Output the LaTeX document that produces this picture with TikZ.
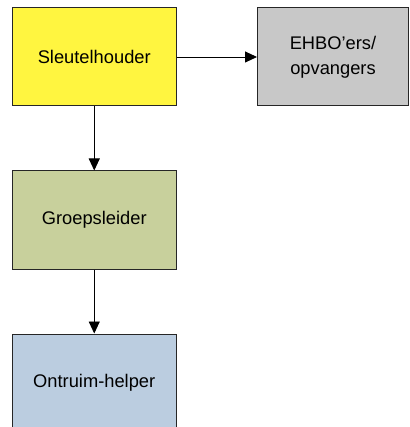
\documentclass[tikz,border=0pt]{standalone}
\usepackage{fontspec}
\setmainfont{Liberation Sans}
\usetikzlibrary{arrows.meta}
\definecolor{cyel}{RGB}{255,245,64}
\definecolor{cgray}{RGB}{200,200,200}
\definecolor{cgreen}{RGB}{200,208,156}
\definecolor{cblue}{RGB}{187,205,224}
\begin{document}
\begin{tikzpicture}[x=1pt,y=-1pt,
  box/.style={draw=black!85,line width=1pt,minimum width=163.5pt,minimum height=98pt,inner sep=0pt,
    font=\fontsize{18.3}{25}\selectfont,align=center,anchor=center},
  conn/.style={line width=0.9pt,-{Triangle[length=12pt,width=11pt]}}]
\useasboundingbox (0,0) rectangle (409,427);
\node[box,fill=cyel] (s) at (94.25,57) {Sleutelhouder};
\node[box,fill=cgray,minimum width=151pt] (e) at (333,57) {EHBO’ers/\\opvangers};
\node[box,fill=cgreen] (g) at (94.25,220) {Groepsleider};
\node[box,fill=cblue] (o) at (94.25,383) {Ontruim-helper};
\draw[conn] (s.south) -- (g.north);
\draw[conn] (g.south) -- (o.north);
\draw[conn] (s.east) -- (e.west);
\end{tikzpicture}
\end{document}
